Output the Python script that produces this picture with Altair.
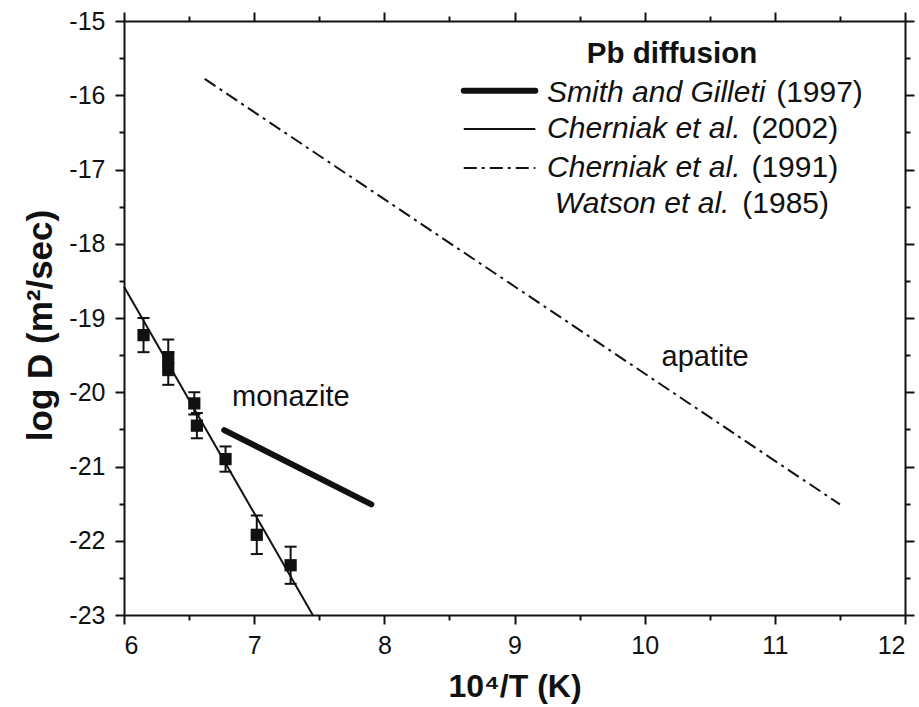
import altair as alt
import pandas as pd

# ---- data ----
# Cherniak et al. (2002) measurements (10^4/T, log D, error)
pt_x = [6.15, 6.34, 6.34, 6.54, 6.56, 6.78, 7.02, 7.28]
pt_y = [-19.23, -19.53, -19.68, -20.15, -20.45, -20.90, -21.92, -22.33]
pt_err = [0.23, 0.24, 0.22, 0.15, 0.17, 0.17, 0.26, 0.25]

# Arrhenius lines
cher2002_x = [6.0, 7.45]
cher2002_y = [-18.58, -23.0]
smith_x = [6.77, 7.90]
smith_y = [-20.51, -21.51]
cher1991_x = [6.62, 11.50]
cher1991_y = [-15.78, -21.51]

# axes
x_ticks = [6, 6.5, 7, 7.5, 8, 8.5, 9, 9.5, 10, 10.5, 11, 11.5, 12]
y_ticks = [-23, -22.5, -22, -21.5, -21, -20.5, -20, -19.5, -19, -18.5, -18,
           -17.5, -17, -16.5, -16, -15.5, -15]

# legend texts
leg_title = "Pb diffusion"
leg_auth = ["Smith and Gilleti", "Cherniak et al.", "Cherniak et al.", "Watson et al."]
leg_year = ["(1997)", "(2002)", "(1991)", "(1985)"]
ann_text = ["monazite", "apatite"]

# ---- layout constants (data coordinates) ----
leg_auth_x = [9.25, 9.25, 9.25, 9.31]
leg_year_x = [11.01, 10.82, 10.82, 10.75]
leg_base_y = [-16.09, -16.58, -17.10, -17.59]
leg_line_x = [8.61, 9.16]
leg_line_y = [-15.94, -16.455, -16.98]
ann_x = [6.83, 10.13]
ann_y = [-20.185, -19.65]

FONT = "Liberation Sans, Arial, sans-serif"
INK = "#111111"

xs = alt.Scale(domain=[6, 12], nice=False, zero=False)
ys = alt.Scale(domain=[-23, -15], nice=False, zero=False)

tick_cond = {"condition": {"test": "datum.value % 1 != 0", "value": 5}, "value": 9}

x_axis = alt.Axis(values=x_ticks, title="10⁴/T (K)",
                  labelExpr="datum.value % 1 ? '' : toString(datum.value)",
                  tickSize=tick_cond, tickWidth=2, domainWidth=2,
                  domainColor=INK, tickColor=INK, labelColor=INK,
                  labelFont=FONT, labelFontSize=25, labelPadding=9,
                  titleFont=FONT, titleFontSize=32, titleFontWeight="bold",
                  titleColor=INK, titleBaseline="alphabetic", titleY=81,
                  grid=False)
y_axis = alt.Axis(values=y_ticks, title="log D (m²/sec)",
                  labelExpr="datum.value % 1 ? '' : toString(datum.value)",
                  tickSize=tick_cond, tickWidth=2, domainWidth=2,
                  domainColor=INK, tickColor=INK, labelColor=INK,
                  labelFont=FONT, labelFontSize=25, labelPadding=10,
                  titleFont=FONT, titleFontSize=35, titleFontWeight="bold",
                  titleColor=INK, titleBaseline="middle", titleX=-84, titleY=304,
                  grid=False)
x_top = alt.Axis(values=x_ticks, orient="top", labels=False, title=None,
                 tickSize=tick_cond, tickWidth=2, domainWidth=2,
                 domainColor=INK, tickColor=INK, grid=False)
y_right = alt.Axis(values=y_ticks, orient="right", labels=False, title=None,
                   tickSize=tick_cond, tickWidth=2, domainWidth=2,
                   domainColor=INK, tickColor=INK, grid=False)

pts = pd.DataFrame({"x": pt_x, "y": pt_y,
                    "lo": [a - e for a, e in zip(pt_y, pt_err)],
                    "hi": [a + e for a, e in zip(pt_y, pt_err)]})

c2002 = pd.DataFrame({"x": cher2002_x, "y": cher2002_y})
smith = pd.DataFrame({"x": smith_x, "y": smith_y})
c1991 = pd.DataFrame({"x": cher1991_x, "y": cher1991_y})


def X(f):
    return alt.X(f, scale=xs, axis=None)


def Y(f):
    return alt.Y(f, scale=ys, axis=None)


# main axes layer
base_line = alt.Chart(c2002).mark_line(color=INK, strokeWidth=2).encode(
    x=alt.X("x:Q", scale=xs, axis=x_axis),
    y=alt.Y("y:Q", scale=ys, axis=y_axis))

# frame axes (top / right)
frame = alt.Chart(c2002).mark_line(opacity=0).encode(
    x=alt.X("x:Q", scale=xs, axis=x_top),
    y=alt.Y("y:Q", scale=ys, axis=y_right))

smith_line = alt.Chart(smith).mark_line(color=INK, strokeWidth=6, strokeCap="round").encode(
    x=X("x:Q"), y=Y("y:Q"))
c1991_line = alt.Chart(c1991).mark_line(color=INK, strokeWidth=2, strokeDash=[13, 5, 3, 5]).encode(
    x=X("x:Q"), y=Y("y:Q"))

err_rule = alt.Chart(pts).mark_rule(color=INK, strokeWidth=2).encode(
    x=X("x:Q"), y=Y("lo:Q"), y2="hi:Q")
cap_lo = alt.Chart(pts).mark_tick(color=INK, thickness=2, size=12, orient="horizontal", opacity=1).encode(
    x=X("x:Q"), y=Y("lo:Q"))
cap_hi = alt.Chart(pts).mark_tick(color=INK, thickness=2, size=12, orient="horizontal", opacity=1).encode(
    x=X("x:Q"), y=Y("hi:Q"))
squares = alt.Chart(pts).mark_square(color=INK, size=150, opacity=1).encode(
    x=X("x:Q"), y=Y("y:Q"))

# legend
leg_df = pd.DataFrame({"auth": leg_auth, "year": leg_year, "ax": leg_auth_x,
                       "yx": leg_year_x, "by": leg_base_y})
leg_auth_t = alt.Chart(leg_df).mark_text(font=FONT, fontSize=30, fontStyle="italic",
                                          align="left", baseline="alphabetic", color=INK).encode(
    x=X("ax:Q"), y=Y("by:Q"), text="auth:N")
leg_year_t = alt.Chart(leg_df).mark_text(font=FONT, fontSize=30,
                                          align="left", baseline="alphabetic", color=INK).encode(
    x=X("yx:Q"), y=Y("by:Q"), text="year:N")
title_df = pd.DataFrame({"t": [leg_title], "x": [10.21], "y": [-15.57]})
leg_title_t = alt.Chart(title_df).mark_text(font=FONT, fontSize=29.5, fontWeight="bold",
                                             align="center", baseline="alphabetic", color=INK).encode(
    x=X("x:Q"), y=Y("y:Q"), text="t:N")

leg_smith = pd.DataFrame({"x": leg_line_x, "y": [leg_line_y[0]] * 2})
leg_c02 = pd.DataFrame({"x": leg_line_x, "y": [leg_line_y[1]] * 2})
leg_c91 = pd.DataFrame({"x": leg_line_x, "y": [leg_line_y[2]] * 2})
leg_l1 = alt.Chart(leg_smith).mark_line(color=INK, strokeWidth=6, strokeCap="round").encode(
    x=X("x:Q"), y=Y("y:Q"))
leg_l2 = alt.Chart(leg_c02).mark_line(color=INK, strokeWidth=2).encode(
    x=X("x:Q"), y=Y("y:Q"))
leg_l3 = alt.Chart(leg_c91).mark_line(color=INK, strokeWidth=2, strokeDash=[13, 5, 3, 5]).encode(
    x=X("x:Q"), y=Y("y:Q"))

ann_df = pd.DataFrame({"t": ann_text, "x": ann_x, "y": ann_y})
ann = alt.Chart(ann_df).mark_text(font=FONT, fontSize=29, align="left",
                                  baseline="alphabetic", color=INK).encode(
    x=X("x:Q"), y=Y("y:Q"), text="t:N")

chart = alt.layer(
    base_line, frame, smith_line, c1991_line, err_rule, cap_lo, cap_hi, squares,
    leg_title_t, leg_auth_t, leg_year_t, leg_l1, leg_l2, leg_l3, ann
).resolve_axis(x="independent", y="independent").properties(
    width=781, height=594,
    autosize=alt.AutoSizeParams(type="none"),
    padding={"left": 124, "top": 21, "right": 14, "bottom": 92},
    background="white",
).configure_view(stroke=None)

chart.save("out.html", embed_options={"renderer": "svg", "actions": False})
